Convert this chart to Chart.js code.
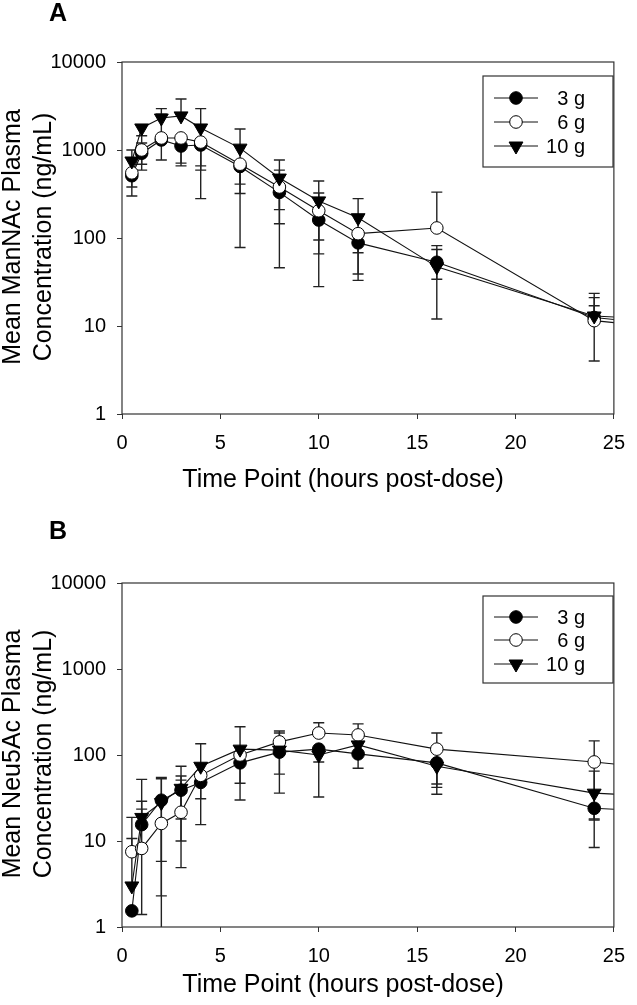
<!DOCTYPE html>
<html>
<head>
<meta charset="utf-8">
<script src="https://cdn.jsdelivr.net/npm/chart.js@4.4.1/dist/chart.umd.min.js"></script>
<style>
  body { margin: 0; background: #fff; width: 637px; height: 1005px; position: relative; overflow: hidden;
         font-family: "Liberation Sans", Arial, sans-serif; }
  .panel { position: absolute; left: 0; width: 637px; }
  #pa { top: 0; height: 505px; }
  #pb { top: 505px; height: 500px; }
  .tag { position: absolute; left: 49px; font-weight: bold; font-size: 25px; line-height: 25px; }
</style>
</head>
<body>
<div class="panel" id="pa"><canvas id="chartA"></canvas></div>
<div class="panel" id="pb"><canvas id="chartB"></canvas></div>
<div class="tag" style="top:0px">A</div>
<div class="tag" style="top:518px">B</div>

<script>
// sampling times (h); the 48 h point is off the axis, only its line stub shows at the right edge
const hours = [0.5, 1, 2, 3, 4, 6, 8, 10, 12, 16, 24, 48];
const doseLabels = ["3 g", "6 g", "10 g"];
const yTicks = [1, 10, 100, 1000, 10000];

// A: ManNAc, mean and visible error bar ends (null = hidden behind markers)
const manA3    = [510, 920, 1300, 1110, 1140, 650, 330, 160, 88, 53, 12.5, 3.5];
const manA3Hi  = [null, 1200, null, null, null, null, null, null, null, 74, 21, null];
const manA3Lo  = [300, 590, null, 710, 660, 320, 145, 28, 33, 34, null, null];
const manA6    = [550, 1000, 1370, 1370, 1230, 690, 380, 204, 112, 130, 11.5, 3.3];
const manA6Hi  = [null, 1450, 2550, null, null, null, 590, 325, null, 332, 17, null];
const manA6Lo  = [380, 690, 770, 660, 280, 78, 46, 66, 39, null, 4.0, null];
const manA10   = [750, 1780, 2310, 2440, 1780, 1050, 480, 264, 170, 47, 13, 7];
const manA10Hi = [1000, null, 2950, 3800, 2950, 1730, 770, 445, 280, 82, 23.5, null];
const manA10Lo = [null, null, null, null, 590, 410, 210, 95, 68, 12, null, null];

// B: Neu5Ac (0 = bar runs down off the axis)
const neuB3    = [1.54, 15.5, 29.8, 39, 48, 81, 108, 117, 103, 81, 24, 12.5];
const neuB3Hi  = [null, 29, 55, 57, null, null, null, null, null, null, null, null];
const neuB3Lo  = [null, null, 5.8, 18, 31, 47, 60, 83, 70, 46, 17.5, null];
const neuB6    = [7.5, 8.2, 16, 21.6, 58, 100, 142, 180, 171, 117, 83, 22.7];
const neuB6Hi  = [18.8, 23.5, null, 51, null, null, 190, 237, 230, 180, 146, null];
const neuB6Lo  = [null, 1.4, 0, 4.9, null, null, null, null, null, 42, 18, null];
const neuB10   = [3.0, 18.8, 28, 41, 74, 117, 114, 100, 131, 74, 36, 19];
const neuB10Hi = [10.7, 52, 53, 74, 135, 213, 180, null, null, null, 65, null];
const neuB10Lo = [null, null, 2.3, 10, 15.5, 30, 36, 32.5, null, 35, 8.4, null];

const FONT = "'Liberation Sans', Arial, sans-serif";
const INK = "#111";

const styles = [
  { pointStyle: "circle", pointRadius: 6.3, pointBackgroundColor: "#000", order: 2 },
  { pointStyle: "circle", pointRadius: 6.3, pointBackgroundColor: "#fff", order: 1 },
  { pointStyle: "triangle", pointRadius: 8, pointRotation: 180, pointBackgroundColor: "#000", order: 0 }
];

function makeSet(i, vals, hi, lo) {
  return Object.assign({
    label: doseLabels[i],
    data: hours.map((h, k) => ({ x: h, y: vals[k] })),
    errHi: hi,
    errLo: lo,
    borderColor: INK,
    borderWidth: 1.1,
    pointBorderColor: "#000",
    pointBorderWidth: 1,
    tension: 0
  }, styles[i]);
}

const errorBars = {
  id: "errorBars",
  beforeDatasetsDraw(chart) {
    const { ctx, chartArea: a, scales: { x, y } } = chart;
    ctx.save();
    ctx.beginPath();
    ctx.rect(a.left, a.top, a.right - a.left, a.bottom - a.top);
    ctx.clip();
    ctx.strokeStyle = "#222";
    ctx.lineWidth = 1.4;
    chart.data.datasets.forEach(ds => {
      ds.data.forEach((p, i) => {
        const px = x.getPixelForValue(p.x);
        const py = y.getPixelForValue(p.y);
        [ds.errHi[i], ds.errLo[i]].forEach(v => {
          if (v == null) return;
          const end = v > 0 ? y.getPixelForValue(v) : a.bottom;
          ctx.beginPath();
          ctx.moveTo(px, py);
          ctx.lineTo(px, end);
          if (v > 0) {
            ctx.moveTo(px - 5.5, end);
            ctx.lineTo(px + 5.5, end);
          }
          ctx.stroke();
        });
      });
    });
    ctx.restore();
  }
};

function drawMarker(ctx, st, cx, cy) {
  ctx.beginPath();
  if (st.pointStyle === "triangle") {
    const r = st.pointRadius;
    ctx.moveTo(cx, cy + r);
    ctx.lineTo(cx - r * Math.sin(Math.PI / 3), cy - r / 2);
    ctx.lineTo(cx + r * Math.sin(Math.PI / 3), cy - r / 2);
    ctx.closePath();
  } else {
    ctx.arc(cx, cy, st.pointRadius, 0, Math.PI * 2);
  }
  ctx.fillStyle = st.pointBackgroundColor;
  ctx.fill();
  ctx.lineWidth = 1;
  ctx.strokeStyle = "#000";
  ctx.stroke();
}

// frame round the plot, boxed legend and axis titles
const frameLegend = {
  id: "frameLegend",
  afterDraw(chart, args, opts) {
    const { ctx, chartArea: a } = chart;
    ctx.save();
    ctx.strokeStyle = "#333";
    ctx.lineWidth = 1.2;
    ctx.strokeRect(a.left, a.top, a.right - a.left, a.bottom - a.top);

    const bx = a.left + 361, by = a.top + opts.top, bw = 130, bh = opts.height;
    ctx.strokeRect(bx, by, bw, bh);
    ctx.font = "20px " + FONT;
    ctx.textAlign = "right";
    ctx.textBaseline = "middle";
    doseLabels.forEach((lab, i) => {
      const ry = by + opts.rows[i];
      ctx.beginPath();
      ctx.moveTo(bx + 11, ry);
      ctx.lineTo(bx + 55, ry);
      ctx.strokeStyle = INK;
      ctx.lineWidth = 1;
      ctx.stroke();
      drawMarker(ctx, styles[i], bx + 33, ry);
      ctx.fillStyle = "#000";
      ctx.fillText(lab, bx + 102, ry + 1);
    });

    ctx.font = "25px " + FONT;
    ctx.textAlign = "center";
    ctx.fillStyle = "#000";
    ctx.fillText("Time Point (hours post-dose)", a.left + 221, a.bottom + opts.xTitle);
    const cy = (a.top + a.bottom) / 2 - 1;
    ctx.translate(0, cy);
    ctx.rotate(-Math.PI / 2);
    ctx.fillText(opts.yTitle[0], 0, 13);
    ctx.fillText(opts.yTitle[1], 0, 44);
    ctx.restore();
  }
};

function makePanel(id, sets, padTop, xHeight, legend) {
  return new Chart(document.getElementById(id), {
    type: "line",
    data: { datasets: sets },
    plugins: [errorBars, frameLegend],
    options: {
      responsive: true,
      maintainAspectRatio: false,
      animation: false,
      events: [],
      layout: { padding: { top: padTop, right: 11, left: 0, bottom: 0 } },
      plugins: {
        legend: { display: false },
        tooltip: { enabled: false },
        frameLegend: legend
      },
      scales: {
        x: {
          type: "linear",
          min: 0,
          max: 25,
          ticks: { stepSize: 5, color: "#000", padding: 12, font: { family: FONT, size: 20 } },
          grid: { display: true, drawOnChartArea: false, drawTicks: true, tickLength: 5, color: "#333" },
          border: { display: false },
          afterFit: s => { s.height = xHeight; }
        },
        y: {
          type: "logarithmic",
          min: 1,
          max: 10000,
          afterBuildTicks: s => { s.ticks = yTicks.map(v => ({ value: v })); },
          ticks: { color: "#000", padding: 11, callback: v => String(v), font: { family: FONT, size: 20 } },
          grid: { display: true, drawOnChartArea: false, drawTicks: true, tickLength: 5, color: "#333" },
          border: { display: false },
          afterFit: s => { s.width = 122; }
        }
      }
    }
  });
}

makePanel("chartA", [
  makeSet(0, manA3, manA3Hi, manA3Lo),
  makeSet(1, manA6, manA6Hi, manA6Lo),
  makeSet(2, manA10, manA10Hi, manA10Lo)
], 62, 91, { top: 14, height: 91, rows: [22, 46, 70], xTitle: 66,
             yTitle: ["Mean ManNAc Plasma", "Concentration (ng/mL)"] });

makePanel("chartB", [
  makeSet(0, neuB3, neuB3Hi, neuB3Lo),
  makeSet(1, neuB6, neuB6Hi, neuB6Lo),
  makeSet(2, neuB10, neuB10Hi, neuB10Lo)
], 78, 78, { top: 13, height: 87, rows: [21, 44, 68], xTitle: 58,
             yTitle: ["Mean Neu5Ac Plasma", "Concentration (ng/mL)"] });
</script>
</body>
</html>
